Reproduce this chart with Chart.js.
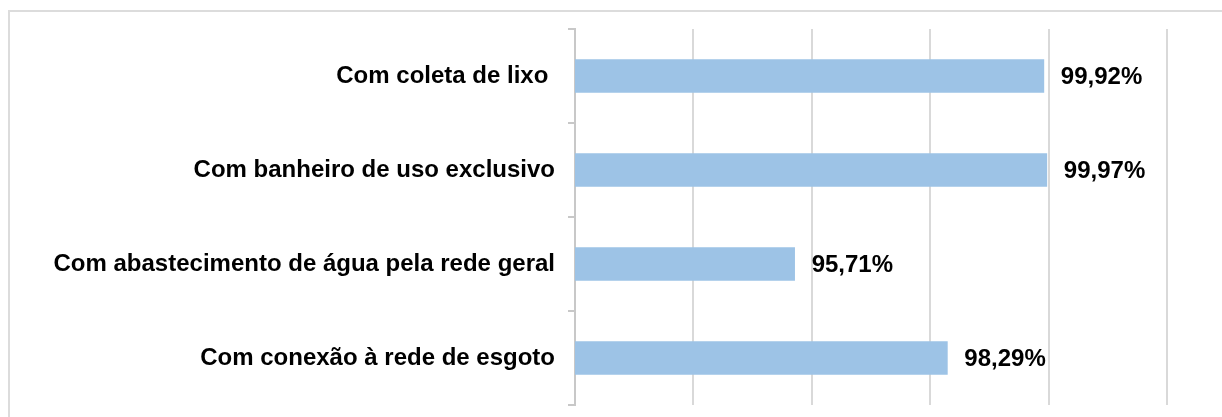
<!DOCTYPE html>
<html>
<head>
<meta charset="utf-8">
<script src="https://cdn.jsdelivr.net/npm/chart.js@4"></script>
<style>
	html, body { margin: 0; padding: 0; background: #fff; overflow: hidden; }
	#wrap { position: relative; width: 1222px; height: 417px; }
	#frame { position: absolute; left: 8px; top: 10px; width: 1300px; height: 500px; border: 2px solid #dcdcdc; box-sizing: border-box; }
	#chart { position: absolute; left: 0; top: 0; }
</style>
</head>
<body>
<div id="wrap">
	<div id="frame"></div>
	<canvas id="chart" width="1222" height="417"></canvas>
</div>
<script>
const categories = ['Com coleta de lixo ', 'Com banheiro de uso exclusivo', 'Com abastecimento de água pela rede geral', 'Com conexão à rede de esgoto']
const values = [99.92, 99.97, 95.71, 98.29]
const valueLabels = ['99,92%', '99,97%', '95,71%', '98,29%']

const FONT = '"Liberation Sans", Arial, sans-serif'

// etiquetas de valor ao lado das barras
const barLabels = {
	id: 'barLabels',
	afterDatasetsDraw: chart => {
		const ctx = chart.ctx
		const meta = chart.getDatasetMeta(0)
		ctx.save()
		ctx.font = `bold 24px ${FONT}`
		ctx.fillStyle = '#000'
		ctx.textAlign = 'left'
		ctx.textBaseline = 'middle'
		meta.data.forEach((bar, i) => {
			ctx.fillText(valueLabels[i], bar.x + 17, bar.y + 1)
		})
		ctx.restore()
	},
}

const ctx = document.getElementById('chart').getContext('2d')
const myChart = new Chart(ctx, {
	type: 'bar',
	data: {
		labels: categories,
		datasets: [
			{
				data: values,
				backgroundColor: '#9DC3E6',
				barThickness: 33,
			},
		],
	},
	options: {
		indexAxis: 'y',
		responsive: false,
		animation: false,
		layout: {
			padding: { left: 0, top: 29, right: 55, bottom: 12 },
		},
		plugins: {
			legend: { display: false },
			tooltip: { enabled: false },
		},
		scales: {
			x: {
				min: 92,
				max: 102,
				ticks: { display: false, stepSize: 2 },
				grid: { color: '#d9d9d9', lineWidth: 2, drawTicks: false },
				border: { display: false },
				afterFit: scale => {
					scale.height = 0
				},
			},
			y: {
				ticks: {
					color: '#000',
					padding: 13,
					font: { family: FONT, size: 24, weight: 'bold' },
				},
				grid: { offset: true, drawOnChartArea: false, tickLength: 7, color: '#c8c8c8', lineWidth: 2 },
				border: { color: '#c8c8c8', width: 2 },
				afterFit: scale => {
					scale.width = 575
					scale.paddingTop = 0
					scale.paddingBottom = 0
				},
			},
		},
	},
	plugins: [barLabels],
})
</script>
</body>
</html>
